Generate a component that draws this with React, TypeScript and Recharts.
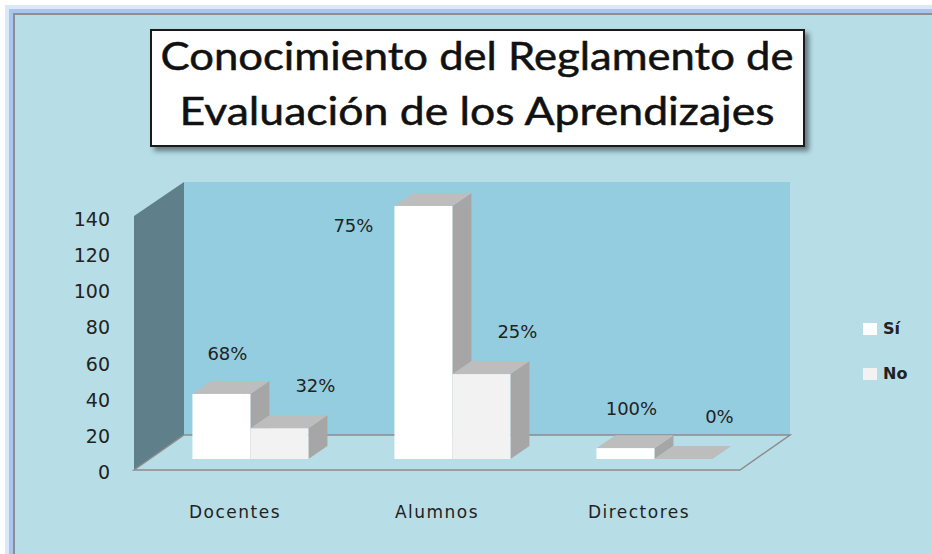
import React from 'react';
import { BarChart, Bar, XAxis, YAxis, Legend, LabelList } from 'recharts';

const categories = ['Docentes', 'Alumnos', 'Directores'];
const siValues = [36, 140, 6];
const noValues = [17, 47, 0];
const siLabels = ['68%', '75%', '100%'];
const noLabels = ['32%', '25%', '0%'];
const yTicks = [0, 20, 40, 60, 80, 100, 120, 140];
const seriesOrder = ['si', 'no'];

const data = categories.map((name, i) => ({
  name,
  si: siValues[i],
  no: noValues[i],
  siLabel: siLabels[i],
  noLabel: noLabels[i],
}));

// plot area (plane where the bars stand)
const W = 932, H = 554;
const LEFT = 149, RIGHT = 755, TOP = 206, BOTTOM = 459;
// 3d offsets
const BAR_DX = 19, BAR_DY = 13;
const FRONT = { dx: -15, dy: 11 };
const BACK = { dx: 35, dy: -24 };

const FONT = '"DejaVu Sans", Verdana, sans-serif';

const Bar3D = (props: any) => {
  const { x, y, width, height, fill } = props;
  const w = width, h = Math.max(0, height);
  const top = `${x},${y} ${x + BAR_DX},${y - BAR_DY} ${x + w + BAR_DX},${y - BAR_DY} ${x + w},${y}`;
  const side = `${x + w},${y} ${x + w + BAR_DX},${y - BAR_DY} ${x + w + BAR_DX},${y + h - BAR_DY} ${x + w},${y + h}`;
  return (
    <g>
      <polygon points={side} fill="#a6a6a6" />
      <polygon points={top} fill="#bdbdbd" />
      {h > 0 && <rect x={x} y={y} width={w} height={h} fill={fill} />}
    </g>
  );
};

const SiLabel = (p: any) => {
  const { x, y, width, value } = p;
  let cx = x + width / 2 + 6;
  let cy = y - 40;
  if (cy < TOP) { cx = x - 41; cy = y + 19; }
  return <text x={cx} y={cy} textAnchor="middle" dominantBaseline="central" fontFamily={FONT} fontSize={18} fill="#222">{value}</text>;
};

const NoLabel = (p: any) => {
  const { x, y, width, value } = p;
  return <text x={x + width / 2 + 36} y={y - 43} textAnchor="middle" dominantBaseline="central" fontFamily={FONT} fontSize={18} fill="#222">{value}</text>;
};

const YTick = (p: any) => {
  const { x, y, payload } = p;
  return <text x={x - 31} y={y + 13} textAnchor="end" dominantBaseline="central" fontFamily={FONT} fontSize={19} fill="#222">{payload.value}</text>;
};

const XTick = (p: any) => {
  const { x, y, payload } = p;
  return <text x={x + FRONT.dx} y={y + 45} textAnchor="middle" dominantBaseline="central" fontFamily={FONT} fontSize={17} letterSpacing={1.5} fill="#222">{payload.value}</text>;
};

const LegendContent = (p: any) => {
  const items = [...(p.payload || [])].sort((a: any, b: any) => seriesOrder.indexOf(a.dataKey) - seriesOrder.indexOf(b.dataKey));
  return (
    <div>
      {items.map((item: any) => (
        <div key={item.value} style={{ display: 'flex', alignItems: 'center', height: 45 }}>
          <div style={{ width: 14, height: 12, background: item.color, marginRight: 6 }} />
          <span style={{ fontFamily: FONT, fontSize: 16, fontWeight: 'bold', color: '#222' }}>{item.value}</span>
        </div>
      ))}
    </div>
  );
};

const Walls = () => {
  const fl = LEFT + FRONT.dx, fb = BOTTOM + FRONT.dy, fr = RIGHT + FRONT.dx;
  const bl = LEFT + BACK.dx, bb = BOTTOM + BACK.dy, br = RIGHT + BACK.dx;
  const bt = TOP + BACK.dy, ft = TOP + 10;
  return (
    <svg width={W} height={H} style={{ position: 'absolute', left: 0, top: 0 }}>
      <rect x={0} y={0} width={W} height={H} fill="#ffffff" />
      <rect x={5} y={5} width={W} height={H} fill="#dbe8fa" />
      <rect x={9} y={9} width={W} height={H} fill="#aac6ee" />
      <rect x={13} y={13} width={W} height={H} fill="#8a8f94" />
      <rect x={15} y={15} width={W} height={H} fill="#b7dde7" />
      <polygon points={`${fl},${ft} ${bl},${bt} ${bl},${bb} ${fl},${fb}`} fill="#5f808b" />
      <rect x={bl} y={bt} width={br - bl} height={bb - bt} fill="#94cde0" />
      <polygon points={`${fl},${fb} ${bl},${bb} ${br},${bb} ${fr},${fb}`} fill="#b7dde7" stroke="#8c8c8c" strokeWidth={1.5} />
    </svg>
  );
};

export default function App() {
  return (
    <div style={{ position: 'absolute', left: 0, top: 0, width: W, height: H, overflow: 'hidden' }}>
      <Walls />
      <div style={{ position: 'absolute', left: 0, top: 0 }}>
        <BarChart width={W} height={H} data={data} margin={{ top: TOP, right: W - RIGHT, bottom: H - BOTTOM - 30, left: 0 }} barGap={0} barCategoryGap="21.5%">
          <XAxis dataKey="name" height={30} axisLine={false} tickLine={false} tick={<XTick />} interval={0} />
          <YAxis width={LEFT} domain={[0, 140]} ticks={yTicks} axisLine={false} tickLine={false} tick={<YTick />} interval={0} />
          <Legend layout="vertical" align="center" verticalAlign="middle" content={<LegendContent />}
            wrapperStyle={{ position: 'absolute', left: 863, top: 306, width: 60 }} />
          <Bar dataKey="si" name="Sí" fill="#ffffff" shape={<Bar3D />} isAnimationActive={false}>
            <LabelList dataKey="siLabel" content={<SiLabel />} />
          </Bar>
          <Bar dataKey="no" name="No" fill="#f2f2f2" shape={<Bar3D />} isAnimationActive={false}>
            <LabelList dataKey="noLabel" content={<NoLabel />} />
          </Bar>
        </BarChart>
      </div>
      <div style={{ position: 'absolute', left: 150, top: 29, width: 651, height: 114, background: '#fff', border: '2px solid #1a1a1a', boxShadow: '4px 4px 5px rgba(0,0,0,0.45)' }}>
        <svg width={651} height={114}>
          <text x={325} y={39} textAnchor="middle" fontFamily="Lato, 'Open Sans', sans-serif" fontSize={38} fill="#111" stroke="#111" strokeWidth={0.5} textLength={633} lengthAdjust="spacingAndGlyphs">Conocimiento del Reglamento de</text>
          <text x={325} y={94} textAnchor="middle" fontFamily="Lato, 'Open Sans', sans-serif" fontSize={38} fill="#111" stroke="#111" strokeWidth={0.5} textLength={595} lengthAdjust="spacingAndGlyphs">Evaluación de los Aprendizajes</text>
        </svg>
      </div>
    </div>
  );
}
